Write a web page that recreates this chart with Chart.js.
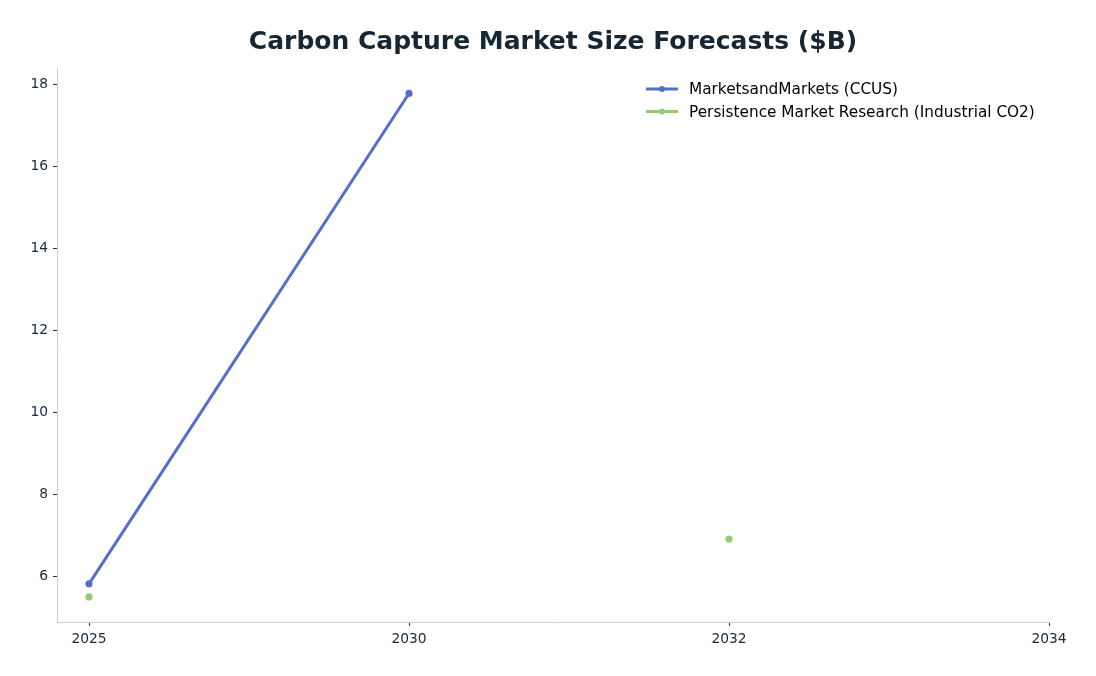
<!DOCTYPE html>
<html>
<head>
<meta charset="utf-8">
<script src="https://cdn.jsdelivr.net/npm/chart.js@4.4.1/dist/chart.umd.min.js"></script>
<style>
html,body{margin:0;padding:0;background:#fff;}
#wrap{width:1096px;height:676px;}
</style>
</head>
<body>
<div id="wrap"><canvas id="c" width="1096" height="676"></canvas></div>
<script>
const categories = ["2025", "2030", "2032", "2034"];
const marketsAndMarkets = [5.83, 17.77, null, null];
const persistence = [5.51, null, 6.92, null];
const yTicks = [6, 8, 10, 12, 14, 16, 18];
const seriesNames = ["MarketsandMarkets (CCUS)", "Persistence Market Research (Industrial CO2)"];
const seriesColors = ["#5470c6", "#91cc75"];

function toPoints(arr){ return arr.map((v,i)=>({x:i, y:v})); }

const legendPlugin = {
  id: 'insideLegend',
  afterDraw(chart){
    const ctx = chart.ctx;
    ctx.save();
    chart.data.datasets.forEach((ds, i) => {
      const y = 89 + i*22.5;
      ctx.strokeStyle = ds.borderColor;
      ctx.lineWidth = 3;
      ctx.beginPath(); ctx.moveTo(646, y); ctx.lineTo(678, y); ctx.stroke();
      ctx.fillStyle = ds.borderColor;
      ctx.beginPath(); ctx.arc(662, y, 3, 0, Math.PI*2); ctx.fill();
      ctx.fillStyle = '#000';
      ctx.font = '15.3px "DejaVu Sans"';
      ctx.textBaseline = 'middle';
      ctx.textAlign = 'left';
      ctx.fillText(ds.label, 689, y + 1.5);
    });
    ctx.restore();
  }
};

new Chart(document.getElementById('c'), {
  type: 'line',
  data: {
    datasets: [
      { label: seriesNames[0], data: toPoints(marketsAndMarkets), borderColor: seriesColors[0], backgroundColor: seriesColors[0], borderWidth: 3, pointRadius: 3.6, pointBorderWidth: 0, pointHoverRadius: 3.6, spanGaps: false, tension: 0 },
      { label: seriesNames[1], data: toPoints(persistence), borderColor: seriesColors[1], backgroundColor: seriesColors[1], borderWidth: 3, pointRadius: 3.6, pointBorderWidth: 0, pointHoverRadius: 3.6, spanGaps: false, tension: 0 }
    ]
  },
  options: {
    responsive: false,
    animation: false,
    devicePixelRatio: 1,
    layout: { padding: { left: 10, right: 0, top: 0, bottom: 0 } },
    plugins: {
      legend: { display: false },
      tooltip: { enabled: false },
      title: {
        display: true,
        text: 'Carbon Capture Market Size Forecasts ($B)',
        color: '#142733',
        font: { family: '"DejaVu Sans"', size: 25, weight: 'bold' },
        padding: { top: 27, bottom: 11 }
      }
    },
    scales: {
      x: {
        type: 'linear',
        min: -0.1,
        max: 3,
        afterBuildTicks(scale){ scale.ticks = categories.map((c,i)=>({value:i})); },
        afterFit(scale){ scale.height = 54; },
        ticks: {
          callback: (v) => categories[v] ?? '',
          color: '#1a2a3a',
          font: { family: '"DejaVu Sans"', size: 13.8 },
          padding: 5,
          maxRotation: 0,
          autoSkip: false
        },
        grid: { drawOnChartArea: false, drawTicks: true, tickLength: 4, tickColor: '#333', color: '#333' },
        border: { display: true, color: '#c8cdd0', width: 1 }
      },
      y: {
        type: 'linear',
        min: 4.9,
        max: 18.39,
        afterBuildTicks(scale){ scale.ticks = yTicks.map(v=>({value:v})); },
        afterFit(scale){ scale.width = 47; },
        ticks: {
          color: '#1a2a3a',
          font: { family: '"DejaVu Sans"', size: 13.8 },
          padding: 5
        },
        grid: { drawOnChartArea: false, drawTicks: true, tickLength: 4, tickColor: '#333', color: '#333' },
        border: { display: true, color: '#c8cdd0', width: 1 }
      },
      spacer: {
        type: 'linear',
        position: 'right',
        display: true,
        min: 0,
        max: 1,
        afterFit(scale){ scale.width = 47; },
        ticks: { display: false },
        grid: { display: false, drawTicks: false },
        border: { display: false }
      }
    }
  },
  plugins: [legendPlugin]
});
</script>
</body>
</html>
